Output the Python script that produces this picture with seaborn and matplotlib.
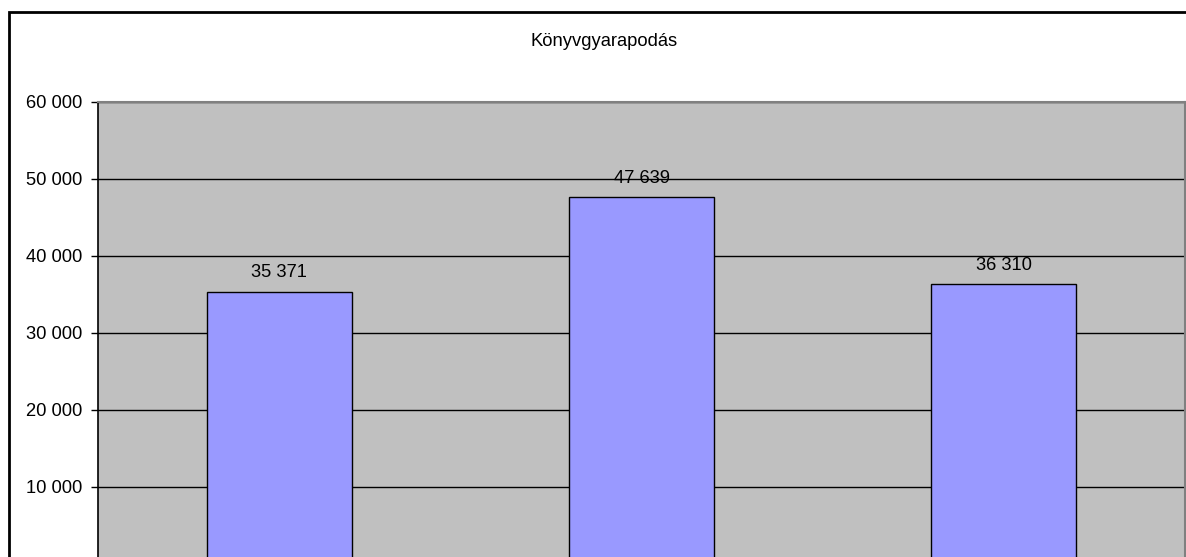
import matplotlib
matplotlib.use("Agg")
import matplotlib.pyplot as plt
import seaborn as sns
import pandas as pd
from matplotlib.patches import Rectangle
from matplotlib.ticker import FuncFormatter

categories = ["2006", "2007", "2008"]
values = [35371, 47639, 36310]
yticks = [0, 10000, 20000, 30000, 40000, 50000, 60000]
title = "Könyvgyarapodás"

sns.set_theme(style="white")
plt.rcParams['font.family'] = ['Liberation Sans', 'DejaVu Sans']
plt.rcParams['text.color'] = 'black'
plt.rcParams['ytick.labelcolor'] = 'black'

W, H = 1186, 557
fig = plt.figure(figsize=(W / 100, H / 100), dpi=100)

# outer chart border (extends beyond the cropped image)
fig.patches.append(Rectangle((9 / W, -0.2), 1.2, 1 - 12 / H + 0.2, transform=fig.transFigure,
                             fill=False, edgecolor="black", linewidth=2, zorder=0))

left, right, top, bottom = 98, 1185, 102, 564
ax = fig.add_axes([left / W, 1 - bottom / H, (right - left) / W, (bottom - top) / H])
ax.set_facecolor("#C0C0C0")

df = pd.DataFrame({"cat": categories, "val": values})
sns.barplot(data=df, x="cat", y="val", ax=ax, color="#9999FF", saturation=1,
            width=0.4, edgecolor="black", linewidth=1, zorder=3)

ax.set_ylim(0, 60000)
ax.set_xlim(-0.5, len(categories) - 0.5)
ax.set_yticks(yticks)
ax.yaxis.set_major_formatter(FuncFormatter(lambda v, p: f"{int(v):,}".replace(",", " ")))
ax.grid(axis="y", color="black", linewidth=1, zorder=1)
ax.set_axisbelow(True)
ax.tick_params(axis="y", which="major", left=True, length=5, width=1, color="black",
               labelsize=13.2, pad=6, labelcolor="black")
ax.tick_params(axis="x", bottom=False, labelbottom=False)
ax.set_xlabel("")
ax.set_ylabel("")

for s in ["top", "right", "bottom"]:
    ax.spines[s].set_color("#808080")
    ax.spines[s].set_linewidth(1.5)
ax.spines["left"].set_color("black")
ax.spines["left"].set_linewidth(1.2)

for i, v in enumerate(values):
    ax.annotate(f"{v:,}".replace(",", " "), (i, v), xytext=(0, 7.5), textcoords="offset points",
                ha="center", va="bottom", fontsize=13.2, color="black")

fig.text(604 / W, 1 - 41 / H, title, ha="center", va="center",
         fontsize=13.2, color="black")

fig.savefig("out.png", dpi=100)
